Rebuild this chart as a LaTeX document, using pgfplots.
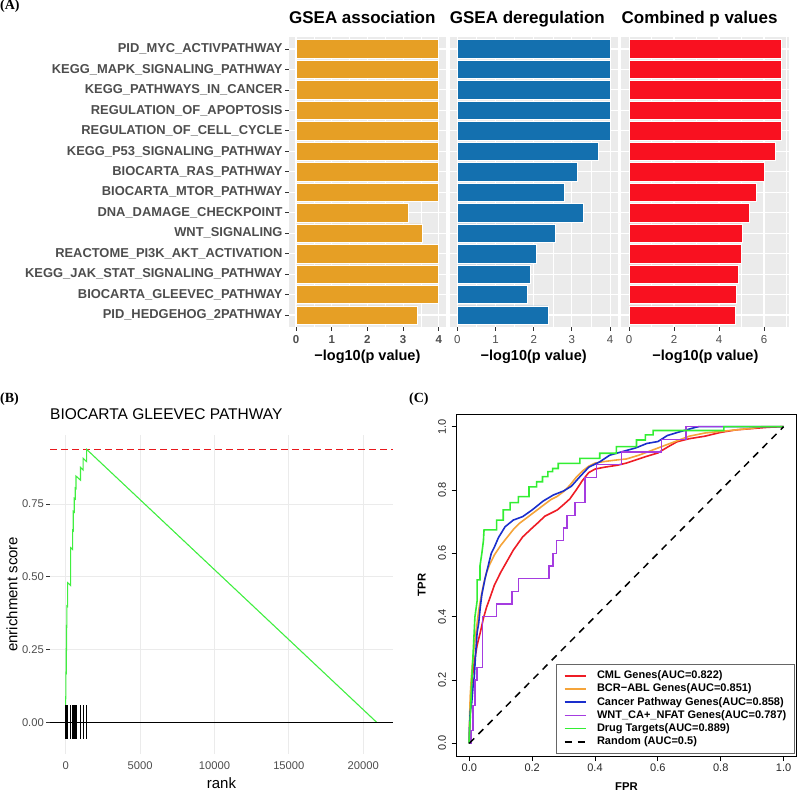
\documentclass[border=0pt]{standalone}
\usepackage{fontspec}
\setmainfont{Liberation Sans}
\newfontfamily\seriffont{Liberation Serif}
\usepackage{pgfplots}
\pgfplotsset{compat=1.18}
\definecolor{barO}{HTML}{E69F25}
\definecolor{barB}{HTML}{1470AF}
\definecolor{barR}{HTML}{F91120}
\definecolor{pgray}{HTML}{EBEBEB}
\definecolor{tgray}{HTML}{4D4D4D}
\definecolor{tickc}{HTML}{333333}
\definecolor{gridB}{HTML}{EBEBEB}
\definecolor{esgreen}{HTML}{40EE40}
\definecolor{esred}{HTML}{E8181C}
\definecolor{rocR}{HTML}{EE1C25}
\definecolor{rocO}{HTML}{F5A43A}
\definecolor{rocB}{HTML}{1A2ECC}
\definecolor{rocP}{HTML}{A53CE0}
\definecolor{rocG}{HTML}{33EE33}

\pgfplotsset{
  panelA/.style={
    scale only axis, height=290.6bp,
    y dir=reverse, ymin=0.4, ymax=14.6, ytick={1,...,14},
    axis background/.style={fill=pgray},
    axis line style={draw=none},
    xmajorgrids, xminorgrids, ymajorgrids,
    major grid style={white, line width=1.1bp},
    minor grid style={white, line width=0.55bp},
    tick align=outside, major tick length=3.7bp, minor tick length=0bp,
    tick style={tickc, line width=0.8bp},
    tick pos=left,
    xticklabel style={font=\fontsize{11.5bp}{13bp}\selectfont, text=tgray, inner sep=0pt, anchor=north, yshift=-3.9bp},
    title style={at={(axis description cs:0,1.0251)}, anchor=base west, inner sep=0pt, font=\bfseries\fontsize{17bp}{20bp}\selectfont},
    xlabel style={at={(axis description cs:0.5,-0.1149)}, anchor=base, inner sep=0pt, font=\bfseries\fontsize{14.5bp}{17bp}\selectfont},
    xlabel={−log10(p value)},
  }
}

\begin{document}
\begin{tikzpicture}
\path[use as bounding box] (0bp,0bp) rectangle (797bp,792bp);

% ---------------- Panel A ----------------
\node[anchor=base west, inner sep=0pt, font=\seriffont\bfseries\fontsize{14bp}{16bp}\selectfont] at (0bp,782.5bp) {(A)};

\begin{axis}[panelA, at={(288.9bp,464.7bp)}, anchor=south west, width=157bp,
  xmin=-0.2, xmax=4.2, xtick={0,1,2,3,4}, xticklabels={0,1,2,3,4}, minor xtick={0.5,1.5,2.5,3.5},
  xticklabel style={font=\bfseries\fontsize{11.5bp}{13bp}\selectfont},
  yticklabel style={font=\bfseries\fontsize{12.9bp}{15bp}\selectfont, text=tgray, inner sep=0pt, anchor=east, xshift=-2.5bp},
  yticklabels={PID\_MYC\_ACTIVPATHWAY,KEGG\_MAPK\_SIGNALING\_PATHWAY,KEGG\_PATHWAYS\_IN\_CANCER,REGULATION\_OF\_APOPTOSIS,REGULATION\_OF\_CELL\_CYCLE,KEGG\_P53\_SIGNALING\_PATHWAY,BIOCARTA\_RAS\_PATHWAY,BIOCARTA\_MTOR\_PATHWAY,DNA\_DAMAGE\_CHECKPOINT,WNT\_SIGNALING,REACTOME\_PI3K\_AKT\_ACTIVATION,KEGG\_JAK\_STAT\_SIGNALING\_PATHWAY,BIOCARTA\_GLEEVEC\_PATHWAY,PID\_HEDGEHOG\_2PATHWAY},
  title={GSEA association}]
\addplot[xbar, fill=barO, draw=white, line width=0.6bp, bar width=0.9] coordinates {
(4,1) (4,2) (4,3) (4,4) (4,5) (4,6) (4,7) (4,8) (3.16,9) (3.53,10) (4,11) (4,12) (4,13) (3.41,14)};
\end{axis}

\begin{axis}[panelA, at={(449.7bp,464.7bp)}, anchor=south west, width=168bp,
  xmin=-0.2, xmax=4.2, xtick={0,1,2,3,4}, xticklabels={0,1,2,3,4}, minor xtick={0.5,1.5,2.5,3.5},
  yticklabels={}, y tick style={draw=none},
  title={GSEA deregulation}]
\addplot[xbar, fill=barB, draw=white, line width=0.6bp, bar width=0.9] coordinates {
(4,1) (4,2) (4,3) (4,4) (4,5) (3.70,6) (3.15,7) (2.79,8) (3.30,9) (2.57,10) (2.07,11) (1.91,12) (1.83,13) (2.37,14)};
\end{axis}

\begin{axis}[panelA, at={(621.4bp,464.7bp)}, anchor=south west, width=168bp,
  xmin=-0.34, xmax=7.13, xtick={0,2,4,6}, xticklabels={0,2,4,6}, minor xtick={1,3,5,7},
  yticklabels={}, y tick style={draw=none},
  title={Combined p values}]
\addplot[xbar, fill=barR, draw=white, line width=0.6bp, bar width=0.9] coordinates {
(6.79,1) (6.79,2) (6.79,3) (6.79,4) (6.79,5) (6.50,6) (6.00,7) (5.67,8) (5.35,9) (5.02,10) (5.01,11) (4.86,12) (4.79,13) (4.73,14)};
\end{axis}

% ---------------- Panel B ----------------
\node[anchor=base west, inner sep=0pt, font=\seriffont\bfseries\fontsize{14bp}{16bp}\selectfont] at (0bp,389.5bp) {(B)};

\begin{axis}[scale only axis, at={(50bp,38.3bp)}, anchor=south west, width=343bp, height=318.9bp,
  xmin=-1050, xmax=22000, ymin=-0.108, ymax=0.988,
  scaled x ticks=false, scaled y ticks=false,
  axis line style={draw=none},
  xtick={0,5000,10000,15000,20000}, xticklabels={0,5000,10000,15000,20000},
  ytick={0,0.25,0.5,0.75}, yticklabels={0.00,0.25,0.50,0.75},
  xmajorgrids, ymajorgrids, major grid style={gridB, line width=0.9bp},
  tick align=outside, major tick length=3.5bp, tick pos=left,
  x tick style={draw=none}, y tick style={tickc, line width=0.8bp},
  xticklabel style={font=\fontsize{11.2bp}{13bp}\selectfont, text=tgray, inner sep=0pt, anchor=north, yshift=-4bp},
  yticklabel style={font=\fontsize{11.2bp}{13bp}\selectfont, text=tgray, inner sep=0pt, anchor=east, xshift=-2.5bp},
  title={BIOCARTA GLEEVEC PATHWAY},
  title style={at={(axis description cs:0,1.0307)}, anchor=base west, inner sep=0pt, font=\fontsize{15.5bp}{18bp}\selectfont},
  xlabel={rank}, xlabel style={at={(axis description cs:0.5,-0.1076)}, anchor=base, inner sep=0pt, font=\fontsize{15bp}{18bp}\selectfont},
  ylabel={enrichment score}, ylabel style={at={(axis description cs:-0.1108,0.5)}, anchor=center, inner sep=0pt, font=\fontsize{15bp}{18bp}\selectfont},
]
\addplot[draw=esred, line width=1.5bp, dash pattern=on 7bp off 4bp] coordinates {(-1050,0.938) (22000,0.938)};
\addplot[draw=esgreen, line width=1.1bp] coordinates {
(0,0) (1,0.085) (20,0.084) (20,0.17) (40,0.169) (40,0.25) (60,0.249) (60,0.33) (80,0.329) (80,0.40)
(130,0.398) (130,0.48) (340,0.470) (340,0.60) (470,0.594) (470,0.66) (515,0.658) (515,0.725)
(580,0.722) (580,0.77) (650,0.767) (650,0.805) (700,0.803) (700,0.846) (1000,0.832) (1000,0.876)
(1180,0.867) (1180,0.907) (1410,0.896) (1410,0.938) (20900,0)};
\addplot[draw=black, line width=1.2bp] coordinates {(-1050,0) (22000,0)};
\addplot[draw=black, line width=0.7bp, ycomb] coordinates {
(1,0.06) (20,0.06) (40,0.06) (60,0.06) (80,0.06) (130,0.06) (340,0.06) (470,0.06) (515,0.06) (580,0.06) (650,0.06) (700,0.06) (1000,0.06) (1180,0.06) (1410,0.06)};
\addplot[draw=black, line width=0.7bp, ycomb] coordinates {
(1,-0.058) (20,-0.058) (40,-0.058) (60,-0.058) (80,-0.058) (130,-0.058) (340,-0.058) (470,-0.058) (515,-0.058) (580,-0.058) (650,-0.058) (700,-0.058) (1000,-0.058) (1180,-0.058) (1410,-0.058)};
\end{axis}

% ---------------- Panel C ----------------
\node[anchor=base west, inner sep=0pt, font=\seriffont\bfseries\fontsize{14bp}{16bp}\selectfont] at (409bp,389bp) {(C)};

\begin{axis}[scale only axis, at={(456.7bp,36bp)}, anchor=south west, width=339.5bp, height=342bp,
  xmin=-0.04, xmax=1.04, ymin=-0.04, ymax=1.04,
  axis line style={black, line width=0.9bp},
  xtick={0,0.2,0.4,0.6,0.8,1}, xticklabels={0.0,0.2,0.4,0.6,0.8,1.0},
  ytick={0,0.2,0.4,0.6,0.8,1}, yticklabels={0.0,0.2,0.4,0.6,0.8,1.0},
  tick align=outside, major tick length=5bp, tick pos=left,
  tick style={black, line width=0.8bp},
  xticklabel style={font=\fontsize{11bp}{13bp}\selectfont, text=black!85, inner sep=0pt, anchor=north, yshift=-3bp},
  yticklabel style={font=\fontsize{11bp}{13bp}\selectfont, text=black!85, inner sep=0pt, xshift=-5.5bp, rotate=90, anchor=south},
  xlabel={FPR}, xlabel style={at={(axis description cs:0.5,-0.1023)}, anchor=base, inner sep=0pt, font=\bfseries\fontsize{11.3bp}{13bp}\selectfont},
  ylabel={TPR}, ylabel style={at={(axis description cs:-0.1031,0.5)}, anchor=center, inner sep=0pt, font=\bfseries\fontsize{11.3bp}{13bp}\selectfont},
  legend cell align=left,
  legend image code/.code={\draw[mark repeat=2,mark phase=2,#1] plot coordinates {(0bp,0bp) (10.85bp,0bp) (21.7bp,0bp)};},
  legend style={at={(0.995,0.008)}, anchor=south east, draw=black!60, fill=white,
    inner xsep=8bp, inner ysep=6bp, row sep=2.6bp,
    font=\bfseries\fontsize{11bp}{13bp}\selectfont,
    /tikz/every odd column/.append style={column sep=10bp},
    nodes={inner sep=0pt, text height=8.2bp, text depth=2.4bp}},
]
\addplot[draw=rocR, line width=1.6bp] coordinates {
(0,0) (0.001,0.04) (0.003,0.1) (0.006,0.16) (0.01,0.21) (0.015,0.25) (0.02,0.28) (0.025,0.31) (0.035,0.35) (0.045,0.395) (0.055,0.43) (0.066,0.46) (0.08,0.5) (0.1,0.54) (0.12,0.575) (0.14,0.61) (0.17,0.652) (0.2,0.68) (0.22,0.698) (0.24,0.717) (0.26,0.727) (0.28,0.737) (0.3,0.754) (0.32,0.772) (0.34,0.8) (0.36,0.83) (0.38,0.855) (0.4,0.866) (0.43,0.872) (0.47,0.878) (0.5,0.885) (0.53,0.895) (0.56,0.905) (0.6,0.917) (0.63,0.935) (0.66,0.952) (0.7,0.962) (0.75,0.97) (0.8,0.982) (0.85,0.99) (0.9,0.994) (0.95,0.998) (1,1)};
\addlegendentry{CML Genes(AUC=0.822)}
\addplot[draw=rocO, line width=1.6bp] coordinates {
(0,0) (0.001,0.08) (0.003,0.15) (0.006,0.2) (0.01,0.25) (0.015,0.3) (0.02,0.34) (0.025,0.38) (0.03,0.42) (0.037,0.46) (0.045,0.5) (0.055,0.54) (0.065,0.565) (0.08,0.595) (0.1,0.625) (0.12,0.65) (0.14,0.675) (0.16,0.695) (0.18,0.71) (0.2,0.725) (0.22,0.74) (0.24,0.755) (0.26,0.77) (0.28,0.78) (0.3,0.795) (0.32,0.815) (0.34,0.84) (0.36,0.86) (0.38,0.875) (0.4,0.885) (0.43,0.89) (0.47,0.895) (0.5,0.898) (0.54,0.91) (0.58,0.925) (0.62,0.94) (0.66,0.955) (0.7,0.97) (0.75,0.98) (0.8,0.985) (0.85,0.99) (0.9,0.995) (0.93,1) (1,1)};
\addlegendentry{BCR−ABL Genes(AUC=0.851)}
\addplot[draw=rocB, line width=1.6bp] coordinates {
(0,0) (0.001,0.06) (0.003,0.1) (0.008,0.13) (0.012,0.18) (0.016,0.21) (0.02,0.28) (0.025,0.35) (0.03,0.38) (0.035,0.43) (0.04,0.47) (0.05,0.52) (0.06,0.56) (0.07,0.6) (0.08,0.62) (0.093,0.65) (0.114,0.684) (0.14,0.705) (0.17,0.716) (0.2,0.737) (0.235,0.765) (0.267,0.784) (0.3,0.797) (0.325,0.812) (0.35,0.84) (0.38,0.872) (0.415,0.889) (0.447,0.91) (0.49,0.922) (0.53,0.933) (0.565,0.947) (0.6,0.953) (0.63,0.972) (0.67,0.984) (0.72,0.998) (0.73,1) (1,1)};
\addlegendentry{Cancer Pathway Genes(AUC=0.858)}
\addplot[draw=rocP, line width=1.6bp] coordinates {
(0,0) (0.005,0) (0.005,0.04) (0.011,0.04) (0.011,0.12) (0.018,0.12) (0.018,0.2) (0.025,0.2) (0.025,0.24) (0.042,0.24) (0.042,0.4) (0.087,0.4) (0.087,0.44) (0.135,0.44) (0.135,0.48) (0.156,0.48) (0.156,0.52) (0.253,0.52) (0.253,0.56) (0.267,0.56) (0.267,0.6) (0.278,0.6) (0.278,0.64) (0.3,0.64) (0.3,0.68) (0.31,0.68) (0.31,0.72) (0.336,0.72) (0.336,0.76) (0.368,0.76) (0.368,0.84) (0.405,0.84) (0.405,0.88) (0.484,0.88) (0.484,0.92) (0.611,0.92) (0.611,0.96) (0.69,0.96) (0.69,1) (1,1)};
\addlegendentry{WNT\_CA+\_NFAT Genes(AUC=0.787)}
\addplot[draw=rocG, line width=1.6bp] coordinates {
(0,0) (0,0.02) (0.004,0.1) (0.008,0.2) (0.013,0.3) (0.018,0.4) (0.025,0.45) (0.025,0.516) (0.034,0.516) (0.034,0.56) (0.04,0.6) (0.045,0.64) (0.047,0.674) (0.087,0.674) (0.087,0.705) (0.108,0.705) (0.108,0.737) (0.13,0.737) (0.13,0.76) (0.156,0.76) (0.156,0.779) (0.19,0.779) (0.19,0.81) (0.214,0.81) (0.214,0.826) (0.233,0.826) (0.233,0.842) (0.25,0.842) (0.25,0.858) (0.265,0.858) (0.265,0.868) (0.283,0.868) (0.283,0.884) (0.352,0.884) (0.352,0.9) (0.415,0.9) (0.415,0.916) (0.468,0.916) (0.468,0.937) (0.532,0.937) (0.532,0.958) (0.56,0.958) (0.56,0.974) (0.585,0.974) (0.585,0.988) (0.81,0.988) (0.81,1) (1,1)};
\addlegendentry{Drug Targets(AUC=0.889)}
\addplot[draw=black, line width=1.5bp, dash pattern=on 7bp off 6bp] coordinates {(0,0) (1,1)};
\addlegendentry{Random (AUC=0.5)}
\end{axis}
\end{tikzpicture}
\end{document}
